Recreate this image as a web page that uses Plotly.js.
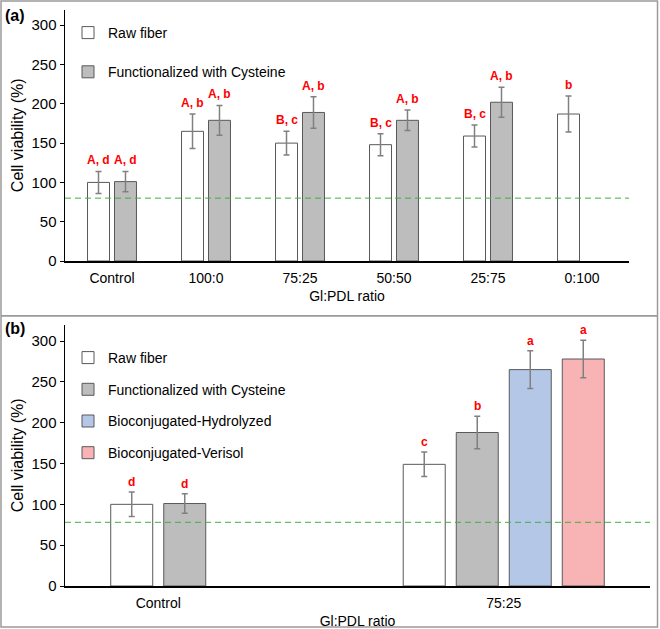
<!DOCTYPE html>
<html><head><meta charset="utf-8">
<script src="https://cdn.plot.ly/plotly-3.0.1.min.js"></script>
<style>html,body{margin:0;padding:0;background:#fff}#a,#b{width:660px;display:block}</style>
</head><body>
<div id="a" style="height:316px"></div>
<div id="b" style="height:313px"></div>
<script>
// ---------- Panel (a) data ----------
const groupsA   = ['Control','100:0','75:25','50:50','25:75','0:100'];
const rawA      = [100, 165, 150, 148, 159, 187];
const rawErrA   = [14, 22, 15, 14, 14, 23];
const cysA      = [101, 179, 189, 179, 202, null];
const cysErrA   = [13, 19, 20, 13, 19, null];
const rawLabA   = ['A, d','A, b','B, c','B, c','B, c','b'];
const cysLabA   = ['A, d','A, b','A, b','A, b','A, b', null];
const cutoffA   = 80;

// ---------- Panel (b) data ----------
const groupsB   = ['Control','75:25'];
const rawB      = [100, 149];
const rawErrB   = [15, 15];
const cysB      = [101, 188];
const cysErrB   = [12, 20];
const hydB      = [null, 265];
const hydErrB   = [null, 23];
const verB      = [null, 278];
const verErrB   = [null, 23];
const rawLabB   = ['d','c'];
const cysLabB   = ['d','b'];
const hydLabB   = [null,'a'];
const verLabB   = [null,'a'];
const cutoffB   = 78;

const seriesNames = ['Raw fiber','Functionalized with Cysteine','Bioconjugated-Hydrolyzed','Bioconjugated-Verisol'];
const xTitle = 'Gl:PDL ratio';
const yTitle = 'Cell viability (%)';

const FONT = 'Liberation Sans, Arial, sans-serif';
const fills = ['#ffffff','#bdbdbd','#b4c7e7','#f8b4b4'];
const edge = '#595959';
const errStyle = {type:'data', color:'#808080', thickness:1.5, width:3, visible:true};

function barTrace(x, y, err, name, i, xa, ya){
  return {type:'bar', x:x, y:y, name:name, xaxis:xa, yaxis:ya,
    legendgroup:'g'+i,
    marker:{color:fills[i], line:{color:edge, width:1}},
    error_y:Object.assign({array:err}, errStyle),
    hoverinfo:'skip'};
}

function labelAnns(lab, vals, errs, offset, yshift){
  const out = [];
  lab.forEach((t, k) => {
    if (t == null || vals[k] == null) return;
    out.push({x:k + offset, y:vals[k] + errs[k], xref:'x', yref:'y', text:t,
      showarrow:false, yanchor:'middle', yshift:yshift,
      font:{family:FONT, size:12, color:'#ff0000', weight:'bold'}});
  });
  return out;
}

function frame(H, top, bottom){
  return {type:'rect', xref:'paper', yref:'paper', x0:1/660, x1:657.5/660,
    y0:1-bottom/H, y1:1-top/H, line:{color:'#9a9a9a', width:1.5}, fillcolor:'rgba(0,0,0,0)'};
}

function axisY(domain){
  return {domain:domain, range:[0,320], tickvals:[0,50,100,150,200,250,300],
    showline:true, linecolor:'#000', linewidth:1.5, ticks:'outside', ticklen:4, tickcolor:'#000',
    showgrid:false, zeroline:false, fixedrange:true, automargin:false,
    tickfont:{family:FONT, size:15, color:'#000'},
    title:{text:yTitle, font:{family:FONT, size:16, color:'#000'}, standoff:4}};
}

function axisX(domain, extra){
  return Object.assign({domain:domain, showline:true, linecolor:'#000', linewidth:1.5,
    ticks:'', ticklabelstandoff:4, showgrid:false, zeroline:false, fixedrange:true, automargin:false,
    tickfont:{family:FONT, size:14, color:'#000'},
    title:{text:xTitle, font:{family:FONT, size:14, color:'#000'}, standoff:6}}, extra);
}

// ---------- Panel (a) ----------
const HA = 316;
const bargapA = 0.426, groupgapA = 0.185;
const slotA = (1 - bargapA) / 2;
const layoutA = {
  width:660, height:HA, margin:{l:0,r:0,t:0,b:0}, paper_bgcolor:'#fff', plot_bgcolor:'rgba(0,0,0,0)',
  barmode:'group', bargap:bargapA, bargroupgap:groupgapA,
  font:{family:FONT, color:'#000'},
  xaxis:axisX([65/660, 629/660], {type:'category', range:[-0.5,5.5]}),
  yaxis:axisY([1-261/HA, 1-9.5/HA]),
  showlegend:true,
  legend:{x:68/660, y:1-17/HA, xanchor:'left', yanchor:'top', bgcolor:'rgba(0,0,0,0)',
    font:{family:FONT, size:14, color:'#000'}, tracegroupgap:18, traceorder:'grouped'},
  shapes:[
    frame(HA, 1, 315.7),
    {type:'line', xref:'x domain', yref:'y', x0:0, x1:1, y0:cutoffA, y1:cutoffA,
      line:{color:'#3cb043', width:1, dash:'6px,4px'}}
  ],
  annotations:[].concat(
    labelAnns(rawLabA, rawA, rawErrA, -slotA/2, 11),
    labelAnns(cysLabA, cysA, cysErrA, slotA/2, 11),
    [{xref:'paper', yref:'paper', x:3/660, y:1-15/HA, xanchor:'left', yanchor:'middle', text:'(a)', showarrow:false,
      font:{family:FONT, size:16, weight:'bold', color:'#000'}}]
  )
};
const dataA = [
  barTrace(groupsA, rawA, rawErrA, seriesNames[0], 0, 'x', 'y'),
  barTrace(groupsA, cysA, cysErrA, seriesNames[1], 1, 'x', 'y')
];
Plotly.newPlot('a', dataA, layoutA, {staticPlot:true, displayModeBar:false});

// ---------- Panel (b) ----------
const HB = 313;
const bargapB = 0.275, groupgapB = 0.208;
const slotB = (1 - bargapB) / 4;
const idxB = groupsB.map((_, k) => k);
const seriesB = [[rawB, rawErrB],[cysB, cysErrB],[hydB, hydErrB],[verB, verErrB]];
// tick centred over the bars that are present in each group
const tickPosB = idxB.map(k => {
  const offs = [];
  seriesB.forEach((s, j) => { if (s[0][k] != null) offs.push((j - 1.5) * slotB); });
  return k + offs.reduce((p, c) => p + c, 0) / offs.length;
});
const layoutB = {
  width:660, height:HB, margin:{l:0,r:0,t:0,b:0}, paper_bgcolor:'rgba(0,0,0,0)', plot_bgcolor:'rgba(0,0,0,0)',
  barmode:'group', bargap:bargapB, bargroupgap:groupgapB,
  font:{family:FONT, color:'#000'},
  xaxis:axisX([65/660, 650/660], {type:'linear', range:[-0.5,1.5], tickmode:'array', tickvals:tickPosB, ticktext:groupsB}),
  yaxis:axisY([1-270/HB, 1-8.7/HB]),
  showlegend:true,
  legend:{x:68/660, y:1-26/HB, xanchor:'left', yanchor:'top', bgcolor:'rgba(0,0,0,0)',
    font:{family:FONT, size:14, color:'#000'}, tracegroupgap:10.5, traceorder:'grouped'},
  shapes:[
    frame(HB, 0, 311),
    {type:'line', xref:'x domain', yref:'y', x0:0, x1:1, y0:cutoffB, y1:cutoffB,
      line:{color:'#3cb043', width:1, dash:'6px,4px'}}
  ],
  annotations:[].concat(
    labelAnns(rawLabB, rawB, rawErrB, -1.5*slotB, 10),
    labelAnns(cysLabB, cysB, cysErrB, -0.5*slotB, 10),
    labelAnns(hydLabB, hydB, hydErrB, 0.5*slotB, 10),
    labelAnns(verLabB, verB, verErrB, 1.5*slotB, 10),
    [{xref:'paper', yref:'paper', x:3/660, y:1-12/HB, xanchor:'left', yanchor:'middle', text:'(b)', showarrow:false,
      font:{family:FONT, size:16, weight:'bold', color:'#000'}}]
  )
};
const dataB = seriesB.map((s, j) => barTrace(idxB, s[0], s[1], seriesNames[j], j, 'x', 'y'));
Plotly.newPlot('b', dataB, layoutB, {staticPlot:true, displayModeBar:false});
</script>
</body></html>
